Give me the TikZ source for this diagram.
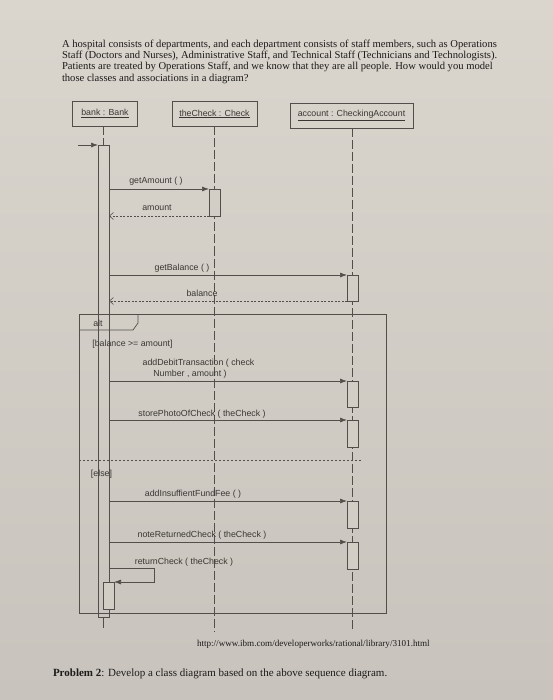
\documentclass[tikz,border=0pt]{standalone}
\usepackage{fontspec}
\setmainfont{Liberation Serif}
\newfontfamily\diagfont{Liberation Sans}
\usetikzlibrary{arrows.meta}
\definecolor{papertop}{RGB}{218,214,206}
\definecolor{paperbot}{RGB}{200,196,189}
\definecolor{paper}{RGB}{210,206,198}
\definecolor{ink}{RGB}{82,78,74}
\definecolor{txt}{RGB}{58,54,50}
\definecolor{ptxt}{RGB}{28,26,26}
\begin{document}
\begin{tikzpicture}[x=1pt,y=-1pt,
  every node/.style={inner sep=0pt, outer sep=0pt},
  lbl/.style={font=\diagfont\fontsize{8.8}{10}\selectfont, text=txt, anchor=base},
  head/.style={draw=ink, line width=0.7pt, minimum height=25pt, font=\diagfont\fontsize{8.8}{10}\selectfont, text=txt},
  life/.style={draw=ink, line width=0.6pt, dash pattern=on 9pt off 3pt},
  bar/.style={draw=ink, line width=0.7pt, fill=paper, minimum width=11pt, anchor=north},
  msg/.style={draw=ink, line width=0.7pt, -{Latex[length=7pt,width=5pt]}},
  ret/.style={draw=ink, line width=0.6pt, dash pattern=on 2pt off 1.5pt, -{Straight Barb[length=4pt,width=7pt]}},
  ptext/.style={font=\fontsize{10.6}{11.5}\selectfont, text=ptxt, anchor=base west},
  frm/.style={draw=ink, line width=0.7pt},
]
% page
\shade[top color=papertop, bottom color=paperbot] (0,0) rectangle (553,700);
\useasboundingbox (0,0) rectangle (553,700);

% question text
\node[ptext] (q1) at (62,47.5) {A hospital consists of departments, and each department consists of staff members, such as Operations};
\node[ptext] (q2) at (62,58.5) {Staff (Doctors and Nurses), Administrative Staff, and Technical Staff (Technicians and Technologists).};
\node[ptext] (q3) at (62,69.5) {Patients are treated by Operations Staff, and we know that they are all people. How would you model};
\node[ptext] (q4) at (62,81.5) {those classes and associations in a diagram?};

% headers
\node[head, minimum width=65pt] (hbank) at (105,113.5) {\underline{bank : Bank}};
\node[head, minimum width=85pt] (hcheck) at (214.5,114) {\underline{theCheck : Check}};
\node[head, minimum width=123pt] (hacc) at (351.5,115.5) {\underline{account : CheckingAccount}};

% lifeline ends
\coordinate (bend) at (103.5,628);
\coordinate (cend) at (214.5,631);
\coordinate (aend) at (352.5,631);

% alt frame
\node[frm, minimum width=307pt, minimum height=299pt, anchor=north west] (frame) at (79,314) {};
\draw[frm] (frame.north west |- 0,330) -- (133,330) -- (138,323) -- (138,314);
\draw[draw=ink, line width=0.6pt, dash pattern=on 2pt off 2pt] (frame.west |- 0,460) coordinate (sepA) -- (362,460) coordinate (sepB);

% lifelines
\draw[life] (hcheck.south) -- (cend);
\draw[life] (hacc.south -| aend) -- (aend);

% bank activation
\node[bar, fill=none, minimum height=472pt] (bbar) at (103.5,145) {};
\draw[life] (hbank.south -| bbar.north) -- (bbar.north);
\draw[draw=ink, line width=0.6pt] (bbar.south) -- (bend);
\coordinate (found) at (78,145);
\draw[msg] (found) -- (bbar.north west);

% theCheck activation
\node[bar, minimum height=27pt] (cbar) at (214.5,189) {};
% account activations
\node[bar, minimum height=26pt] (a1) at (352.5,275) {};
\node[bar, minimum height=26pt] (a2) at (352.5,381) {};
\node[bar, minimum height=27pt] (a3) at (352.5,420) {};
\node[bar, minimum height=27pt] (a4) at (352.5,501) {};
\node[bar, minimum height=27pt] (a5) at (352.5,542) {};
% nested bank activation
\node[bar, minimum height=27pt] (nbar) at (108.5,582) {};

% frame labels
\node[lbl] (altl) at (98,326) {alt};
\node[lbl] (g1) at (132.5,346) {[balance >= amount]};
\node[lbl] (g2) at (101.5,476) {[else]};

% messages
\draw[msg] (bbar.east |- cbar.north) -- (cbar.north west);
\node[lbl] (m1) at (156,184) {getAmount ( )};
\draw[ret] (cbar.south west) -- (bbar.east |- cbar.south);
\node[lbl] (m2) at (157,211) {amount};

\draw[msg] (bbar.east |- a1.north) -- (a1.north west);
\node[lbl] (m3) at (182,270) {getBalance ( )};
\draw[ret] (a1.south west) -- (bbar.east |- a1.south);
\node[lbl] (m4) at (202,296) {balance};

\draw[msg] (bbar.east |- a2.north) -- (a2.north west);
\node[lbl] (m5) at (198.5,365) {addDebitTransaction ( check};
\node[lbl] (m5b) at (190,376) {Number , amount )};

\draw[msg] (bbar.east |- a3.north) -- (a3.north west);
\node[lbl] (m6) at (202,416) {storePhotoOfCheck ( theCheck )};

\draw[msg] (bbar.east |- a4.north) -- (a4.north west);
\node[lbl] (m7) at (193,496) {addInsuffientFundFee ( )};

\draw[msg] (bbar.east |- a5.north) -- (a5.north west);
\node[lbl] (m8) at (202,537) {noteReturnedCheck ( theCheck )};

\draw[msg] (bbar.east |- 0,568) -- (154,568) -- (154,582) -- (nbar.north east);
\node[lbl] (m9) at (184,564) {returnCheck ( theCheck )};

% footer
\node[anchor=base west, font=\fontsize{9.1}{11}\selectfont, text=ptxt] (url) at (197,646) {http://www.ibm.com/developerworks/rational/library/3101.html};
\node[anchor=base west, font=\fontsize{11}{13}\selectfont, text=ptxt] (prob) at (53,676.5) {\textbf{Problem 2}: Develop a class diagram based on the above sequence diagram.};
\end{tikzpicture}
\end{document}
